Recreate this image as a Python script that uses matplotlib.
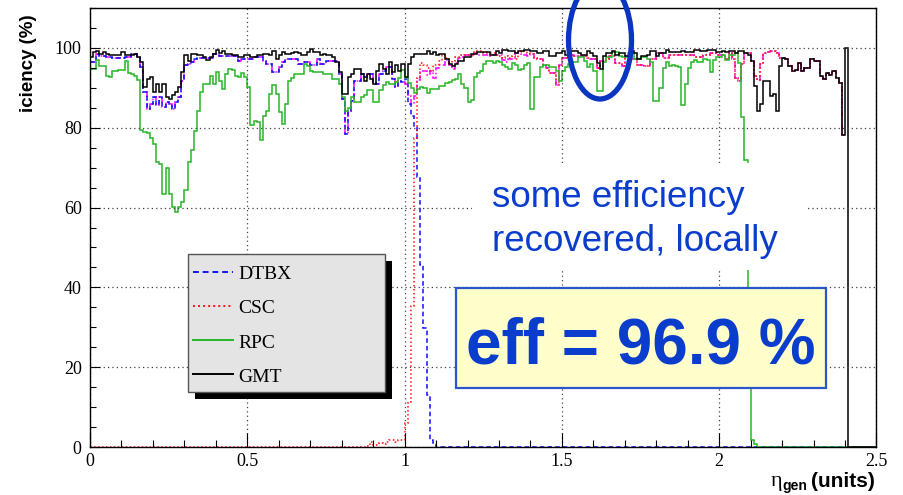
import numpy as np
import matplotlib.pyplot as plt
from matplotlib.patches import Rectangle, Ellipse
from matplotlib.lines import Line2D
from matplotlib.transforms import Affine2D
from matplotlib.ticker import MultipleLocator

W, H = 904, 495
bin_width = 0.01

# DTBX efficiency (%) in 0.01 eta bins from 0.00 to 1.10, zero above
dtbx = [
    96.4, 96.4, 98.5, 97.9, 97.9, 97.7, 97.7, 97.5, 97.5, 97.5,
    97.5, 97.7, 97.7, 98.5, 98.5, 97.7, 95.2, 88.9, 84.8, 86.0,
    87.7, 85.6, 87.7, 85.2, 86.4, 86.0, 84.8, 86.4, 87.7, 91.8,
    95.6, 96.0, 96.4, 97.3, 97.5, 97.5, 97.5, 97.5, 97.5, 98.5,
    98.5, 97.9, 97.9, 97.9, 97.9, 97.9, 97.9, 96.8, 97.3, 97.3,
    97.3, 97.3, 97.7, 97.7, 97.7, 96.8, 96.0, 96.0, 93.9, 93.9,
    95.2, 96.4, 97.3, 97.3, 97.3, 97.3, 96.0, 96.0, 96.4, 96.4,
    95.6, 95.6, 97.3, 96.0, 96.0, 96.8, 96.8, 96.8, 96.8, 93.5,
    87.3, 78.5, 84.3, 86.8, 91.8, 91.8, 93.5, 92.7, 93.5, 93.5,
    91.4, 91.0, 93.5, 94.3, 95.2, 95.2, 92.3, 90.2, 91.8, 91.4,
    92.3, 86.0, 83.0, 80.2, 67.7, 45.6, 29.8, 13.0, 1.8, 1.0,
]

# CSC efficiency (%) in 0.01 bins from 0.88 to 2.40, zero below 0.88
csc = [
    0.3, 1.3,
    0.5, 0.5, 1.0, 0.8, 1.3, 1.8, 1.8, 1.3, 1.8, 1.8,
    6.0, 11.4, 35.4, 77.4, 92.5, 96.2, 95.8, 95.0, 94.2, 95.8,
    95.8, 96.7, 98.3, 97.5, 96.2, 96.7, 97.7, 97.7, 98.3, 98.3,
    98.3, 98.3, 99.2, 99.2, 99.2, 98.8, 98.8, 98.8, 98.8, 98.3,
    97.9, 97.5, 97.9, 97.5, 97.9, 97.1, 99.0, 99.2, 99.2, 98.8,
    98.5, 97.5, 97.1, 97.1, 95.8, 95.0, 93.8, 93.8, 90.8, 95.8,
    97.5, 97.5, 98.3, 98.3, 98.0, 97.9, 97.9, 97.9, 97.5, 97.1,
    97.1, 95.0, 96.7, 96.7, 97.1, 97.9, 97.9, 96.3, 96.3, 95.4,
    97.9, 97.9, 97.1, 97.1, 95.8, 95.8, 95.4, 95.4, 97.3, 97.3,
    98.8, 98.8, 97.5, 97.5, 98.3, 98.3, 98.3, 98.2, 98.2, 98.2,
    98.2, 98.2, 97.8, 97.8, 97.8, 98.2, 98.2, 98.6, 98.6, 98.2,
    98.2, 98.2, 97.3, 98.8, 97.3, 92.5, 91.6, 96.0, 98.8, 98.8,
    96.7, 93.0, 92.0, 96.0, 98.8, 99.0, 99.2, 99.2, 98.8, 97.5,
    97.5, 97.1, 95.4, 94.1, 94.5, 96.2, 94.1, 95.0, 95.0, 97.1,
    96.7, 96.7, 92.9, 92.1, 93.7, 93.3, 94.1, 92.5, 91.2, 78.2,
]

# RPC efficiency (%) in 0.01 bins from 0.00 to 2.12, zero above
rpc = [
    94.7, 94.7, 97.0, 95.5, 95.5, 93.0, 92.7, 94.3, 94.3, 94.5,
    94.5, 96.8, 93.8, 93.5, 93.0, 92.0, 79.5, 79.0, 78.7, 77.5,
    76.0, 71.4, 71.0, 63.5, 70.0, 63.5, 60.2, 59.0, 60.2, 61.4,
    64.3, 71.4, 74.3, 79.3, 84.3, 88.9, 91.0, 91.0, 93.0, 91.0,
    94.0, 91.8, 89.7, 93.5, 94.7, 94.5, 93.0, 92.7, 93.8, 92.7,
    90.2, 80.6, 81.8, 81.5, 76.8, 83.0, 84.3, 88.5, 90.6, 88.5,
    83.9, 81.0, 86.0, 91.8, 92.5, 93.5, 93.5, 93.5, 96.0, 95.5,
    94.3, 93.9, 93.9, 93.9, 93.5, 93.5, 93.5, 92.2, 92.2, 91.0,
    87.7, 84.3, 85.0, 87.7, 86.4, 86.4, 87.7, 88.1, 89.4, 89.4,
    86.4, 86.4, 89.4, 90.6, 91.5, 91.0, 91.0, 91.5, 92.5, 94.5,
    92.5, 91.3, 90.0, 88.6, 89.6, 90.1, 89.9, 88.8, 89.7, 89.7,
    89.7, 90.5, 90.5, 91.2, 91.5, 92.0, 92.3, 93.4, 91.0, 90.0,
    86.5, 87.0, 92.6, 93.8, 94.3, 95.9, 96.6, 96.7, 96.1, 96.8,
    96.4, 95.7, 95.1, 94.8, 96.3, 95.8, 94.5, 94.8, 95.7, 96.3,
    84.8, 92.7, 92.7, 95.2, 95.6, 95.6, 95.2, 95.2, 94.3, 91.8,
    94.3, 95.2, 96.0, 96.4, 96.4, 97.7, 97.7, 96.8, 95.2, 96.0,
    94.3, 89.3, 89.3, 96.4, 97.7, 97.7, 99.0, 99.0, 98.0, 97.7,
    97.7, 98.6, 98.6, 97.3, 97.3, 97.7, 97.7, 97.3, 96.4, 86.8,
    86.8, 90.0, 95.0, 96.4, 95.5, 95.7, 95.5, 95.3, 85.7, 91.0,
    95.0, 96.5, 96.9, 96.5, 96.5, 97.3, 97.0, 94.0, 96.9, 97.8,
    97.8, 98.2, 96.9, 98.2, 98.2, 98.8, 96.2, 82.8, 71.9, 30.0,
    1.8, 0.8,
]

# GMT efficiency (%) in 0.01 bins from 0.00 to 2.41, zero above
gmt = [
    97.7, 98.9, 99.3, 98.5, 98.9, 98.5, 98.1, 98.1, 98.3, 98.3,
    98.9, 98.1, 98.1, 98.1, 98.5, 97.7, 96.4, 90.2, 92.3, 92.7,
    88.9, 91.0, 88.9, 91.0, 87.7, 87.3, 88.1, 88.9, 90.2, 93.9,
    98.1, 96.8, 98.5, 98.5, 98.1, 98.1, 97.7, 97.0, 97.7, 98.5,
    99.5, 98.7, 99.2, 98.5, 98.5, 98.1, 98.1, 97.7, 97.7, 98.1,
    98.1, 97.8, 97.8, 98.1, 98.1, 98.5, 98.5, 98.1, 99.2, 97.3,
    98.1, 98.9, 98.5, 98.5, 98.7, 98.9, 98.7, 98.3, 98.1, 98.9,
    99.8, 98.9, 98.9, 98.3, 98.5, 98.1, 98.1, 97.7, 96.4, 93.9,
    88.5, 88.5, 92.7, 93.5, 94.8, 94.8, 93.5, 91.8, 93.5, 92.3,
    91.0, 94.3, 96.0, 94.8, 93.5, 96.4, 93.9, 95.6, 94.3, 96.0,
    92.7, 96.0, 97.7, 98.5, 98.5, 98.5, 98.5, 99.2, 98.5, 98.9,
    98.1, 98.5, 98.5, 97.3, 96.0, 95.5, 96.0, 96.8, 96.8, 97.7,
    97.7, 98.5, 98.5, 99.0, 99.0, 99.0, 99.0, 98.3, 98.3, 99.2,
    98.8, 99.6, 99.6, 99.2, 99.2, 98.8, 99.2, 99.2, 99.6, 99.6,
    99.2, 99.2, 98.8, 98.8, 99.2, 99.2, 97.9, 97.9, 98.8, 98.8,
    99.2, 98.3, 98.3, 99.2, 99.2, 98.8, 98.3, 98.3, 99.2, 98.8,
    97.9, 96.3, 94.6, 97.9, 98.8, 98.8, 99.2, 98.3, 98.8, 98.8,
    97.9, 97.9, 99.2, 98.8, 97.1, 97.9, 97.9, 98.3, 99.2, 99.2,
    97.9, 98.8, 98.8, 99.6, 99.0, 99.0, 99.0, 99.0, 99.2, 99.0,
    99.0, 99.0, 99.4, 99.4, 99.2, 99.2, 99.4, 99.4, 99.4, 99.0,
    99.0, 99.2, 99.0, 99.2, 99.2, 98.8, 99.2, 99.2, 98.8, 98.3,
    96.7, 90.4, 84.1, 86.0, 91.6, 91.6, 87.9, 88.5, 84.1, 95.4,
    97.5, 97.1, 95.4, 94.1, 94.5, 96.2, 94.1, 95.0, 95.0, 97.1,
    96.7, 96.7, 92.9, 92.1, 93.7, 93.3, 94.1, 92.5, 91.2, 78.2,
    100.0,
]

# DT+CSC combined (%) in 0.01 bins from 0.00 to 2.40
dtcsc = [
    96.4, 96.4, 98.5, 97.9, 97.9, 97.7, 97.7, 97.5, 97.5, 97.5,
    97.5, 97.7, 97.7, 98.5, 98.5, 97.7, 95.2, 88.9, 84.8, 86.0,
    87.7, 85.6, 87.7, 85.2, 86.4, 86.0, 84.8, 86.4, 87.7, 91.8,
    95.6, 96.0, 96.4, 97.3, 97.5, 97.5, 97.5, 97.5, 97.5, 98.5,
    98.5, 97.9, 97.9, 97.9, 97.9, 97.9, 97.9, 96.8, 97.3, 97.3,
    97.3, 97.3, 97.7, 97.7, 97.7, 96.8, 96.0, 96.0, 93.9, 93.9,
    95.2, 96.4, 97.3, 97.3, 97.3, 97.3, 96.0, 96.0, 96.4, 96.4,
    95.6, 95.6, 97.3, 96.0, 96.0, 96.8, 96.8, 96.8, 96.8, 93.5,
    87.3, 78.5, 84.3, 86.8, 91.8, 91.8, 93.5, 92.7, 93.5, 93.5,
    91.4, 91.0, 93.5, 94.3, 95.2, 95.2, 92.3, 90.2, 91.8, 91.4,
    91.0, 88.0, 86.0, 88.0, 92.0, 94.2, 94.2, 93.3, 94.2, 92.5,
    95.0, 95.8, 95.8, 97.0, 95.8, 94.6, 96.2, 97.5, 97.7, 98.3,
    98.3, 97.9, 98.8, 98.3, 98.3, 98.3, 98.3, 97.9, 98.3, 98.3,
    98.3, 97.0, 96.5, 97.3, 97.3, 98.8, 98.8, 98.3, 98.3, 98.0,
    98.5, 97.5, 97.1, 97.1, 95.8, 95.0, 93.8, 93.8, 90.8, 95.8,
    97.5, 97.5, 98.3, 98.3, 98.0, 97.9, 97.9, 97.9, 97.5, 97.1,
    97.1, 95.0, 96.7, 96.7, 97.1, 97.9, 97.9, 96.3, 96.3, 95.4,
    97.9, 97.9, 97.1, 97.1, 95.8, 95.8, 95.4, 95.4, 97.3, 97.3,
    98.8, 98.8, 97.5, 97.5, 98.3, 98.3, 98.3, 98.2, 98.2, 98.2,
    98.2, 98.2, 97.8, 97.8, 97.8, 98.2, 98.2, 98.6, 98.6, 98.2,
    98.2, 98.2, 97.3, 98.8, 97.3, 92.5, 91.6, 96.0, 98.8, 98.8,
    96.7, 93.0, 92.0, 96.0, 98.8, 99.0, 99.2, 99.2, 98.8, 97.5,
    97.5, 97.1, 95.4, 94.1, 94.5, 96.2, 94.1, 95.0, 95.0, 97.1,
    96.7, 96.7, 92.9, 92.1, 93.7, 93.3, 94.1, 92.5, 91.2, 78.2,
]

names = ["DTBX", "CSC", "RPC", "GMT"]
colors = {"DTBX": "#1010ff", "CSC": "#ff1010", "RPC": "#26b526", "GMT": "black"}
styles = {"DTBX": (0, (3, 2)), "CSC": (0, (1, 1.6)), "RPC": "-", "GMT": "-"}
text_blue = "#0b3dcc"


def binned(start, vals, lead_zero=False, tail_to=None):
    edges = list(np.round(start + np.arange(len(vals) + 1) * bin_width, 3))
    vals = list(vals)
    if lead_zero:
        edges = [0.0] + edges
        vals = [0.0] + vals
    if tail_to is not None:
        edges.append(tail_to)
        vals.append(0.0)
    return vals, edges


fig = plt.figure(figsize=(W / 100, H / 100), dpi=100)
# pixel coordinates, origin top-left
pix = Affine2D().scale(1.0 / W, -1.0 / H).translate(0, 1) + fig.transFigure

ax = fig.add_axes([90 / W, 1 - 447 / H, 786.5 / W, 439 / H])
ax.set_xlim(0, 2.5)
ax.set_ylim(0, 110)

lw = 1.1
v, e = binned(0.0, dtcsc)
ax.stairs(v, e, baseline=None, color="#ff00ff", lw=lw, linestyle=(0, (4, 1.5, 1, 1.5)), clip_on=False)
v, e = binned(0.0, dtbx, tail_to=2.5)
ax.stairs(v, e, baseline=None, color=colors["DTBX"], lw=lw, linestyle=styles["DTBX"], clip_on=False)
v, e = binned(0.88, csc, lead_zero=True)
ax.stairs(v, e, baseline=None, color=colors["CSC"], lw=lw, linestyle=styles["CSC"], clip_on=False)
v, e = binned(0.0, rpc, tail_to=2.5)
ax.stairs(v, e, baseline=None, color=colors["RPC"], lw=lw, clip_on=False)
v, e = binned(0.0, gmt, tail_to=2.5)
ax.stairs(v, e, baseline=None, color=colors["GMT"], lw=lw, clip_on=False)

ax.xaxis.set_major_locator(MultipleLocator(0.5))
ax.xaxis.set_minor_locator(MultipleLocator(0.1))
ax.yaxis.set_major_locator(MultipleLocator(20))
ax.yaxis.set_minor_locator(MultipleLocator(5))
ax.set_xticks([0, 0.5, 1, 1.5, 2, 2.5])
ax.set_xticklabels(["0", "0.5", "1", "1.5", "2", "2.5"])
ax.tick_params(axis="both", which="both", direction="in", width=0.8,
               labelsize=13, labelfontfamily="Liberation Serif")
ax.tick_params(axis="x", which="major", length=10, pad=4)
ax.tick_params(axis="x", which="minor", length=5)
ax.tick_params(axis="y", which="major", length=7, pad=6)
ax.tick_params(axis="y", which="minor", length=4.5)
ax.grid(True, which="major", linestyle=(0, (1, 2.5)), color="#444444", lw=0.9)
for s in ax.spines.values():
    s.set_linewidth(1.0)

# axis titles
fig.text(29, 63, "iciency (%)", transform=pix, rotation=90, ha="center", va="center",
         fontsize=13.5, fontweight="bold", family="Liberation Sans")
fig.text(771, 486, "\u03b7", transform=pix, ha="left", va="baseline",
         fontsize=16, family="Liberation Serif")
fig.text(782, 490, "gen", transform=pix, ha="left", va="baseline",
         fontsize=10, fontweight="bold", family="Liberation Sans")
fig.text(875, 487, "(units)", transform=pix, ha="right", va="baseline",
         fontsize=15, fontweight="bold", family="Liberation Sans")

# legend with drop shadow
fig.add_artist(Rectangle((195.5, 261), 196.5, 137.5, transform=pix,
                         facecolor="black", edgecolor="none", zorder=5))
fig.add_artist(Rectangle((188.3, 254.3), 196.7, 137.4, transform=pix,
                         facecolor="#e4e4e4", edgecolor="#555555", lw=1.0, zorder=6))
for k, name in enumerate(names):
    yc = 271.7 + 34.1 * k
    fig.add_artist(Line2D([193, 233], [yc, yc], transform=pix, color=colors[name],
                          lw=1.4, linestyle=styles[name], zorder=7))
    fig.text(238, yc + 7.6, name, transform=pix, ha="left", va="baseline",
             fontsize=14, family="Liberation Serif", zorder=8)

# annotation
fig.add_artist(Rectangle((472, 163), 336, 107, transform=pix,
                         facecolor="white", edgecolor="none", zorder=5))
fig.text(491.7, 207, "some efficiency", transform=pix, ha="left", va="baseline",
         fontsize=26.5, color=text_blue, family="Liberation Sans", zorder=8)
fig.text(491.7, 251, "recovered, locally", transform=pix, ha="left", va="baseline",
         fontsize=26.5, color=text_blue, family="Liberation Sans", zorder=8)

fig.add_artist(Rectangle((456, 288.3), 369.7, 100, transform=pix,
                         facecolor="#ffffcc", edgecolor="#2a55cc", lw=1.6, zorder=6))
fig.text(641, 363, "eff = 96.9 %", transform=pix, ha="center", va="baseline",
         fontsize=46, fontweight="bold", color=text_blue, family="Liberation Sans", zorder=8)

fig.add_artist(Ellipse((600, 40), 63, 118, transform=pix, fill=False,
                       edgecolor="#0a35c0", lw=3.8, zorder=10))

fig.savefig("out.png", dpi=100)
